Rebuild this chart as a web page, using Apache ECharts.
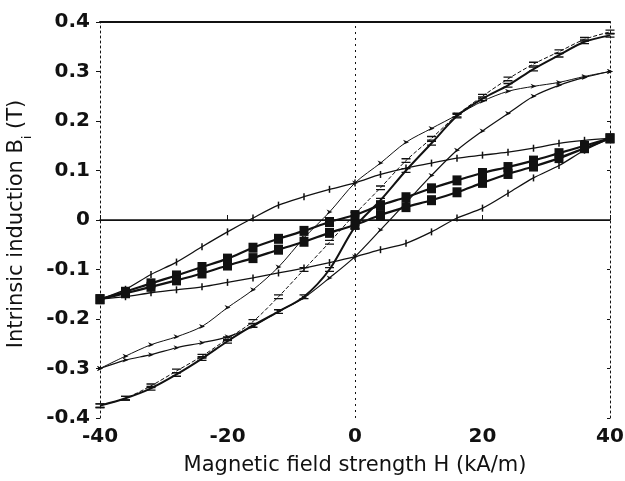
<!DOCTYPE html>
<html>
<head>
<meta charset="UTF-8">
<title>Hysteresis loops</title>
<style>
  html, body, #main { margin: 0; padding: 0; width: 625px; height: 481px; background: #fff; overflow: hidden; }
</style>
</head>
<body>
<div id="main"></div>
<script src="https://cdn.jsdelivr.net/npm/echarts@6/dist/echarts.min.js"></script>
<script>
// field strength H (kA/m), one point every 4 kA/m
const fieldH = [-40, -36, -32, -28, -24, -20, -16, -12, -8, -4, 0, 4, 8, 12, 16, 20, 24, 28, 32, 36, 40];
const xTicks = [-40, -20, 0, 20, 40];
const yTicks = [-0.4, -0.3, -0.2, -0.1, 0, 0.1, 0.2, 0.3, 0.4];

// filled squares loop
const squareUpper = [-0.16, -0.145, -0.128, -0.112, -0.095, -0.078, -0.056, -0.038, -0.022, -0.004, 0.01, 0.03, 0.046, 0.064, 0.08, 0.095, 0.107, 0.12, 0.135, 0.15, 0.165];
const squareLower = [-0.16, -0.148, -0.135, -0.122, -0.108, -0.092, -0.077, -0.06, -0.044, -0.026, -0.01, 0.01, 0.026, 0.04, 0.056, 0.075, 0.093, 0.108, 0.125, 0.145, 0.165];
// "+" loop
const plusUpper = [-0.16, -0.14, -0.11, -0.085, -0.054, -0.024, 0.004, 0.03, 0.047, 0.062, 0.075, 0.092, 0.105, 0.115, 0.125, 0.131, 0.137, 0.145, 0.155, 0.161, 0.165];
const plusLower = [-0.16, -0.155, -0.147, -0.141, -0.135, -0.126, -0.117, -0.107, -0.097, -0.086, -0.074, -0.06, -0.047, -0.024, 0.004, 0.024, 0.054, 0.085, 0.11, 0.141, 0.165];
// arrow loop (+/-0.3 T)
const arrowUpper = [-0.30, -0.275, -0.252, -0.236, -0.215, -0.177, -0.141, -0.095, -0.036, 0.016, 0.075, 0.115, 0.157, 0.185, 0.212, 0.24, 0.26, 0.27, 0.278, 0.29, 0.30];
const arrowLower = [-0.30, -0.283, -0.272, -0.258, -0.248, -0.236, -0.215, -0.185, -0.157, -0.117, -0.074, -0.02, 0.035, 0.09, 0.141, 0.18, 0.215, 0.25, 0.272, 0.288, 0.30];
// "=" loop (+/-0.38 T)
const dashUpper = [-0.375, -0.36, -0.335, -0.305, -0.275, -0.24, -0.205, -0.155, -0.1, -0.045, 0.012, 0.065, 0.12, 0.165, 0.212, 0.25, 0.285, 0.315, 0.34, 0.365, 0.38];
const dashLower = [-0.375, -0.36, -0.34, -0.312, -0.28, -0.245, -0.213, -0.185, -0.155, -0.1, -0.014, 0.04, 0.1, 0.155, 0.21, 0.245, 0.272, 0.305, 0.333, 0.36, 0.373];

const ink = '#111';
const font = 'DejaVu Sans';

function pairs(ys) {
  return fieldH.map(function (h, i) { return [h, ys[i]]; });
}

function branch(ys, opt) {
  return Object.assign({
    type: 'line',
    data: pairs(ys),
    smooth: 0.3,
    color: ink,
    itemStyle: { color: ink },
    lineStyle: { color: ink, width: 1 },
    animation: false,
    z: 3
  }, opt);
}

const eqMark = 'path://M0,0H10V1.6H0Z M0,4.4H10V6H0Z';
const arrowMark = 'path://M0,0L10,4L0,8L3,4Z';

const chart = echarts.init(document.getElementById('main'));
chart.setOption({
  backgroundColor: '#fff',
  animation: false,
  grid: { left: 100, right: 15, top: 22, bottom: 63, outerBoundsMode: 'none', containLabel: false },
  xAxis: [{
    type: 'value', min: -40, max: 40, interval: 20,
    position: 'bottom',
    axisLine: { lineStyle: { color: ink, width: 1.5 } },
    axisTick: { inside: true, length: 5, lineStyle: { color: ink } },
    axisLabel: { color: ink, fontSize: 20, fontWeight: 'bold', fontFamily: font, margin: 9,
      customValues: xTicks },
    splitLine: { show: false },
    name: 'Magnetic field strength H (kA/m)',
    nameLocation: 'middle', nameGap: 37,
    nameTextStyle: { color: ink, fontSize: 21, fontFamily: font }
  }, {
    type: 'value', min: -40, max: 40, interval: 20,
    position: 'top',
    axisLine: { onZero: false, lineStyle: { color: ink, width: 2 } },
    axisTick: { show: false }, axisLabel: { show: false }, splitLine: { show: false }
  }],
  yAxis: [{
    type: 'value', min: -0.4, max: 0.4, interval: 0.1,
    position: 'left',
    axisLine: { onZero: false, lineStyle: { color: ink, width: 1, type: [2, 3] } },
    axisTick: { length: 4, lineStyle: { color: ink } },
    axisLabel: { color: ink, fontSize: 20, fontWeight: 'bold', fontFamily: font, margin: 10,
      customValues: yTicks },
    splitLine: { show: false },
    name: 'Intrinsic induction B{sub|i} (T)',
    nameLocation: 'middle', nameGap: 73,
    nameTextStyle: { color: ink, fontSize: 21, fontFamily: font, padding: [0, 8, 0, 0],
      rich: { sub: { fontSize: 12, fontFamily: font, color: ink, verticalAlign: 'bottom', padding: [0, 0, -7, 0] } } }
  }, {
    type: 'value', min: -0.4, max: 0.4, interval: 0.1,
    position: 'right',
    axisLine: { onZero: false, lineStyle: { color: ink, width: 1, type: [2, 3] } },
    axisTick: { inside: true, length: 3, lineStyle: { color: ink } },
    axisLabel: { show: false }, splitLine: { show: false }
  }],
  series: [
    {
      type: 'line', data: [], silent: true,
      markLine: {
        symbol: 'none', silent: true, label: { show: false },
        data: [
          { yAxis: 0, lineStyle: { color: ink, width: 1.2, type: 'solid' } },
          { xAxis: 0, lineStyle: { color: ink, width: 1, type: [2, 4] } }
        ]
      }
    },
    branch(dashUpper, { symbol: eqMark, symbolSize: [9, 5], lineStyle: { color: ink, width: 1, type: [4, 2] } }),
    branch(dashLower, { symbol: eqMark, symbolSize: [9, 5], lineStyle: { color: ink, width: 2 } }),
    branch(arrowUpper, { symbol: arrowMark, symbolSize: [6, 5], lineStyle: { color: ink, width: 1 } }),
    branch(arrowLower, { symbol: arrowMark, symbolSize: [6, 5], lineStyle: { color: ink, width: 1.2 } }),
    branch(plusUpper, { symbol: 'rect', symbolSize: [1.5, 7], lineStyle: { color: ink, width: 1.3 } }),
    branch(plusLower, { symbol: 'rect', symbolSize: [1.5, 7], lineStyle: { color: ink, width: 1.3 } }),
    branch(squareUpper, { symbol: 'rect', symbolSize: [9, 10], lineStyle: { color: ink, width: 2.2 }, z: 4 }),
    branch(squareLower, { symbol: 'rect', symbolSize: [9, 10], lineStyle: { color: ink, width: 2.2 }, z: 4 })
  ]
});
</script>
</body>
</html>
